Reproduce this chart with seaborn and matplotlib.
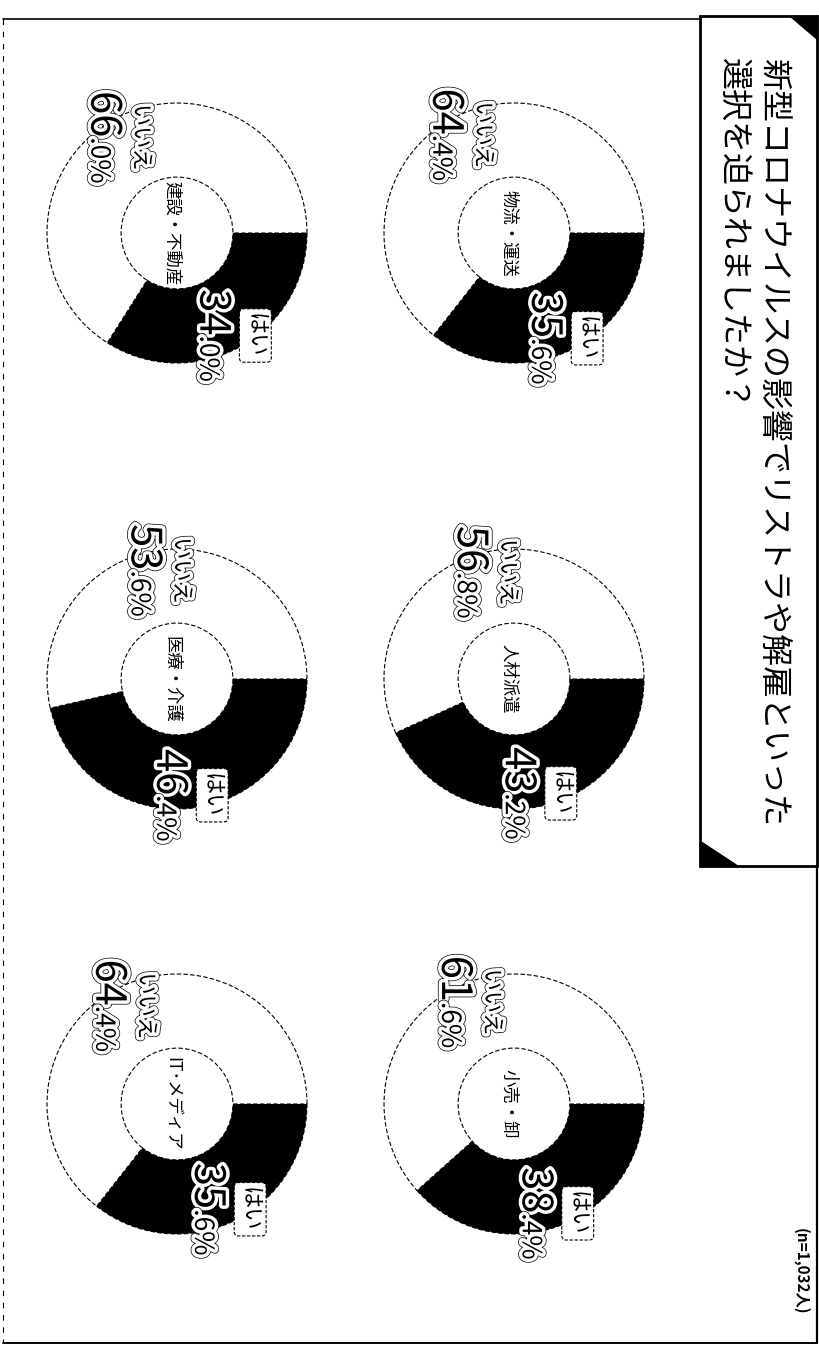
import matplotlib
matplotlib.use("Agg")
import matplotlib.pyplot as plt
import seaborn as sns
import numpy as np
from matplotlib import patheffects as pe
from matplotlib.patches import Rectangle, Polygon

sns.set_theme(style="white")
plt.rcParams["font.family"] = ["Noto Sans CJK JP", "DejaVu Sans"]

# ---------------- data ----------------
title_lines = ["新型コロナウイルスの影響でリストラや解雇といった",
               "選択を迫られましたか？"]
industries = ["物流・運送", "人材派遣", "小売・卸",
              "建設・不動産", "医療・介護", "IT･メディア"]
yes_pct = [35.6, 43.2, 38.4, 34.0, 46.4, 35.6]
no_pct = [64.4, 56.8, 61.6, 66.0, 53.6, 64.4]
answer_labels = ["はい", "いいえ"]
sample_note = "(n=1,032人)"

# ---------------- layout ----------------
W, H = 820, 1347
fig = plt.figure(figsize=(W / 100, H / 100), dpi=100)
fig.patch.set_facecolor("white")

R = 130.0            # donut outer radius in px
BOX = 340.0          # axes box size in px
L = BOX / 2 / R      # axis limit in radius units
row_x = [514, 177]   # rotated layout: original rows -> x
col_y = [233, 679, 1104]

pal = sns.color_palette(["#000000", "#ffffff"])

halo = [pe.Stroke(linewidth=6.0, foreground="black"),
        pe.Stroke(linewidth=5.0, foreground="white"),
        pe.Normal()]

def put_block(ax, angle_deg, r, word, value, boxed):
    a = np.deg2rad(angle_deg)
    bx, by = r * np.cos(a), r * np.sin(a)
    kw = dict(rotation=-90, rotation_mode="anchor", ha="center", va="center",
              fontsize=16, color="black", zorder=5)
    if boxed:
        ax.text(bx + 22 / R, by, word,
                bbox=dict(boxstyle="round,pad=0.2", fc="white", ec="black",
                          lw=0.8, ls=(0, (3, 1.5))), **kw)
    else:
        ax.text(bx + 17 / R, by, word, path_effects=halo, **kw)
    s = f"{value:.1f}"
    big, dec = s.split(".")
    px = bx - 33 / R
    ax.text(px, by, big, rotation=-90, rotation_mode="anchor", ha="right",
            va="baseline", fontsize=30, color="black", path_effects=halo, zorder=5)
    ax.text(px, by, "." + dec + "%", rotation=-90, rotation_mode="anchor", ha="left",
            va="baseline", fontsize=19, color="black", path_effects=halo, zorder=5)

for i, name in enumerate(industries):
    row, col = divmod(i, 3)
    cx, cy = row_x[row], col_y[col]
    ax = fig.add_axes([(cx - BOX / 2) / W, 1 - (cy + BOX / 2) / H, BOX / W, BOX / H])
    y, n = yes_pct[i], no_pct[i]
    ax.pie([y, n], colors=pal, startangle=0, counterclock=False, radius=1,
           wedgeprops=dict(width=0.57, edgecolor="black", linewidth=0.8,
                           linestyle=(0, (4, 2))))
    ax.set_xlim(-L, L)
    ax.set_ylim(-L, L)
    ax.set_aspect("equal")
    ax.axis("off")
    ang_yes = -y / 100 * 360 / 2
    ang_no = -y / 100 * 360 - n / 100 * 360 / 2
    put_block(ax, ang_yes, 0.9, answer_labels[0], y, boxed=True)
    put_block(ax, ang_no, 0.84, answer_labels[1], n, boxed=False)
    ax.text(-0.04, 0, name, rotation=-90, rotation_mode="anchor", ha="center",
            va="center", fontsize=12.5, color="black")

# ---------------- overlay: frame, title ----------------
ov = fig.add_axes([0, 0, 1, 1], zorder=-1)
ov.set_xlim(0, W)
ov.set_ylim(H, 0)
ov.axis("off")
ov.patch.set_alpha(0)

ov.plot([3, 817], [19, 19], color="black", lw=1.2)
ov.plot([817, 817], [16, 1343], color="black", lw=1.6)
ov.plot([3, 817], [1343, 1343], color="black", lw=1.4)
ov.plot([3, 3], [19, 1343], color="black", lw=0.8, ls=(0, (5, 6)))

ov.add_patch(Rectangle((700, 16), 117, 850, fc="white", ec="black", lw=2.0, zorder=2))
ov.add_patch(Polygon([(790, 16), (817, 16), (817, 39)], closed=True,
                     fc="black", ec="black", zorder=3))
ov.add_patch(Polygon([(700, 841), (700, 866), (738, 866)], closed=True,
                     fc="black", ec="black", zorder=3))

ov.text(772, 58, title_lines[0], rotation=-90, rotation_mode="anchor",
        ha="left", va="center", fontsize=23, color="black", zorder=4)
ov.text(733, 58, title_lines[1], rotation=-90, rotation_mode="anchor",
        ha="left", va="center", fontsize=23, color="black", zorder=4)

ov.text(801, 1271, sample_note, rotation=-90, rotation_mode="anchor",
        ha="center", va="center", fontsize=11, fontweight="bold", color="black")

fig.savefig("out.png", dpi=100, facecolor="white")
